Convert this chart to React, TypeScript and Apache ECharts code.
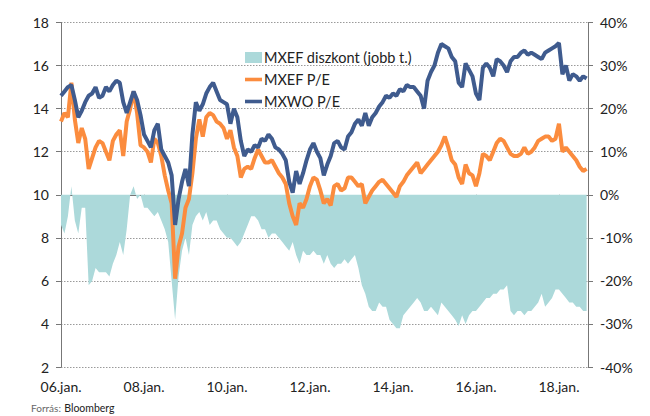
import React, { useEffect, useRef } from "react";
import * as echarts from "echarts";

// Monthly observations, Jan 2006 .. Sep 2018
const START_YEAR = 2006;

const mxwoPE = [
  14.6, 14.8, 15.0, 15.1, 14.4, 13.6, 13.9, 14.3, 14.6, 14.7, 15.0, 14.5,
  14.6, 15.0, 14.8, 15.1, 15.3, 15.2, 14.3, 13.8, 14.3, 14.8, 14.4, 13.7,
  12.8, 12.5, 12.2, 13.0, 13.3, 12.1, 11.8, 11.5, 10.9, 8.6, 9.8, 10.6,
  11.2, 10.4, 12.8, 14.3, 13.9, 14.2, 14.7, 15.0, 15.2, 14.8, 14.4, 14.3,
  14.2, 13.3, 14.0, 13.6, 12.5, 11.8, 12.1, 12.0, 12.3, 12.2, 12.6, 12.5,
  12.8, 12.6, 12.2, 12.1, 11.9, 11.6, 10.6, 10.1, 11.1, 10.5, 11.0, 11.6,
  12.1, 12.4, 12.0, 11.7, 10.9, 11.4, 11.8, 12.4, 12.5, 12.2, 12.1, 12.7,
  12.9, 13.3, 13.5, 13.2, 13.8, 13.2, 13.6, 13.8, 14.1, 14.3, 14.6, 14.5,
  14.7, 14.6, 14.9, 14.8, 15.1, 15.0, 15.0, 14.8, 14.6, 14.0, 15.3, 15.7,
  16.0, 16.6, 17.0, 16.9, 16.8, 16.4, 16.2, 15.2, 15.0, 16.1, 15.8, 15.5,
  14.7, 14.4, 15.9, 16.1, 15.9, 15.5, 16.3, 16.2, 16.0, 15.7, 16.2, 16.4,
  16.4, 16.6, 16.7, 16.5, 16.6, 16.5, 16.4, 16.3, 16.6, 16.7, 16.8, 16.9,
  17.05, 15.6, 16.0, 15.3, 15.6, 15.5, 15.3, 15.5, 15.4,
];

const mxefPE = [
  13.4, 13.8, 13.6, 15.2, 13.5, 12.4, 13.1, 12.6, 11.2, 11.7, 12.2, 12.5,
  12.4, 12.0, 11.6, 12.5, 12.8, 13.0, 11.8, 13.4, 14.0, 14.8, 13.8, 12.3,
  12.2, 12.0, 11.5, 12.6, 12.4, 11.8, 10.9, 10.2, 9.6, 6.1, 7.6, 8.2,
  9.4, 9.8, 11.0, 12.6, 13.5, 12.7, 13.6, 13.8, 13.7, 13.4, 13.3, 13.1,
  12.6, 13.0, 12.2, 11.8, 10.8, 11.2, 11.3, 11.2, 11.7, 12.1, 11.8, 11.5,
  11.5, 11.6, 11.3, 11.0, 10.8, 10.5, 9.6, 9.0, 8.6, 9.6, 9.4, 9.8,
  10.4, 10.8, 10.7, 10.2, 9.6, 9.8, 9.5, 10.4, 10.5, 10.2, 10.3, 10.8,
  10.8, 10.6, 10.4, 10.5, 9.6, 9.9, 10.2, 10.4, 10.6, 10.7, 10.5, 10.3,
  10.1, 9.9, 10.4, 10.6, 10.9, 11.1, 11.3, 11.5, 11.0, 11.2, 11.4, 11.6,
  11.8, 12.0, 12.3, 12.7, 12.2, 11.6, 11.4, 10.8, 10.5, 11.4, 11.0, 10.9,
  10.4, 11.0, 11.9, 11.8, 11.6, 12.0, 12.4, 12.6, 12.5, 12.2, 11.9, 11.8,
  11.8, 11.9, 12.2, 11.9, 12.0, 12.2, 12.5, 12.6, 12.7, 12.7, 12.5, 12.6,
  13.3, 12.0, 12.2, 12.0, 11.8, 11.6, 11.3, 11.1, 11.2,
];

const mxefDiscount = [
  -7, -9, -5, 2, -6, -9, -3, -3, -21, -20, -17, -18,
  -18, -18, -19, -16, -14, -11, -14, -8, 0, 2, -1, 0,
  -3, -3, -4, -5, -4, -6, -8, -11, -20, -29, -19, -13,
  -10, -14, -7, -5, -4, -6, -4, -7, -6, -6, -8, -9,
  -10, -10, -11, -12, -11, -9, -7, -5, -5, -6, -8, -8,
  -10, -9, -9, -10, -11, -12, -13, -11, -14, -16, -13, -14,
  -14, -13, -14, -14, -16, -14, -16, -17, -16, -16, -15, -16,
  -15, -14, -17, -21, -23, -26, -27, -27, -25, -26, -26, -29,
  -30, -31, -31, -28, -27, -26, -25, -24, -25, -27, -27, -26,
  -27, -28, -25, -26, -27, -28, -29, -30.5, -28, -30, -28, -27,
  -27, -26, -25, -24, -24, -23, -23, -22, -22, -21, -27, -28,
  -27, -27, -28, -27, -27, -26, -25, -23, -26, -25, -24, -22,
  -22, -23, -24, -25, -25, -26, -26, -27, -27,
];

const xTickYears = [2006, 2008, 2010, 2012, 2014, 2016, 2018];
const leftTicks = { min: 2, max: 18, interval: 2 };
const rightTicks = { min: -40, max: 40, interval: 10 };

const NAME_AREA = "MXEF diszkont (jobb t.)";
const NAME_EF = "MXEF P/E";
const NAME_WO = "MXWO P/E";

const COLOR_AREA = "#acd9da";
const COLOR_EF = "#fb8c3e";
const COLOR_WO = "#3f5b8e";

const toPairs = (arr: number[]) => arr.map((v, i) => [START_YEAR + i / 12, v]);

const FONT = "Lato, 'Open Sans', sans-serif";
const LINE_ICON = "path://M0,0h20v4.2h-20z";

export default function App() {
  const ref = useRef<HTMLDivElement>(null);
  useEffect(() => {
    document.body.style.margin = "0";
    if (!ref.current) return;
    const chart = echarts.init(ref.current, null, { renderer: "svg" });
    chart.setOption({
      animation: false,
      backgroundColor: "#ffffff",
      textStyle: { fontFamily: FONT },
      grid: { left: 61, right: 62, top: 22.5, bottom: 49 },
      legend: {
        orient: "vertical",
        left: 240,
        top: 45,
        itemGap: 7,
        itemWidth: 17,
        itemHeight: 11,
        textStyle: { fontFamily: FONT, fontSize: 14.5, color: "#222", padding: [0, 0, 0, -3] },
        data: [
          { name: NAME_AREA, icon: "rect", itemStyle: { color: COLOR_AREA } },
          { name: NAME_EF, icon: LINE_ICON, itemStyle: { color: COLOR_EF } },
          { name: NAME_WO, icon: LINE_ICON, itemStyle: { color: COLOR_WO } },
        ],
      },
      xAxis: {
        type: "value",
        min: 2006,
        max: 2018.7,
        interval: 2,
        axisLine: { show: true, lineStyle: { color: "#777", width: 1 } },
        axisTick: { show: true, length: 5, lineStyle: { color: "#777" }, customValues: xTickYears },
        axisLabel: {
          customValues: xTickYears,
          margin: 12,
          fontFamily: FONT,
          fontSize: 14,
          color: "#222",
          formatter: (v: number) => String(Math.round(v) % 100).padStart(2, "0") + ".jan.",
        },
        splitLine: { show: false },
      },
      yAxis: [
        {
          type: "value",
          min: leftTicks.min,
          max: leftTicks.max,
          interval: leftTicks.interval,
          axisLine: { show: true, lineStyle: { color: "#777", width: 1 } },
          axisTick: { show: true, length: 5, lineStyle: { color: "#777" } },
          axisLabel: { margin: 12, fontFamily: FONT, fontSize: 14, color: "#222" },
          splitLine: { show: true, lineStyle: { color: "#9a9a9a", type: [1.5, 1.5], width: 1 } },
        },
        {
          type: "value",
          min: rightTicks.min,
          max: rightTicks.max,
          interval: rightTicks.interval,
          position: "right",
          axisLine: { show: true, lineStyle: { color: "#777", width: 1 } },
          axisTick: { show: true, length: 5, lineStyle: { color: "#777" } },
          axisLabel: {
            margin: 12,
            fontFamily: FONT,
            fontSize: 14,
            color: "#222",
            formatter: (v: number) => v + "%",
          },
          splitLine: { show: false },
        },
      ],
      series: [
        {
          name: NAME_AREA,
          type: "line",
          yAxisIndex: 1,
          data: toPairs(mxefDiscount),
          symbol: "none",
          lineStyle: { width: 0, color: COLOR_AREA },
          itemStyle: { color: COLOR_AREA },
          areaStyle: { color: COLOR_AREA, opacity: 1, origin: 0 },
          z: 1,
        },
        {
          name: NAME_EF,
          type: "line",
          data: toPairs(mxefPE),
          symbol: "none",
          lineStyle: { width: 4, color: COLOR_EF },
          itemStyle: { color: COLOR_EF },
          z: 2,
        },
        {
          name: NAME_WO,
          type: "line",
          data: toPairs(mxwoPE),
          symbol: "none",
          lineStyle: { width: 4, color: COLOR_WO },
          itemStyle: { color: COLOR_WO },
          z: 3,
        },
      ],
      graphic: [
        {
          type: "text",
          left: 31,
          top: 402,
          style: {
            text: "{a|Forrás:} {b|Bloomberg}",
            rich: {
              a: { fontFamily: FONT, fontSize: 10, fill: "#666" },
              b: { fontFamily: FONT, fontSize: 10.5, fill: "#222" },
            },
          },
        },
      ],
    });
    return () => chart.dispose();
  }, []);
  return <div ref={ref} style={{ width: 650, height: 416 }} />;
}
